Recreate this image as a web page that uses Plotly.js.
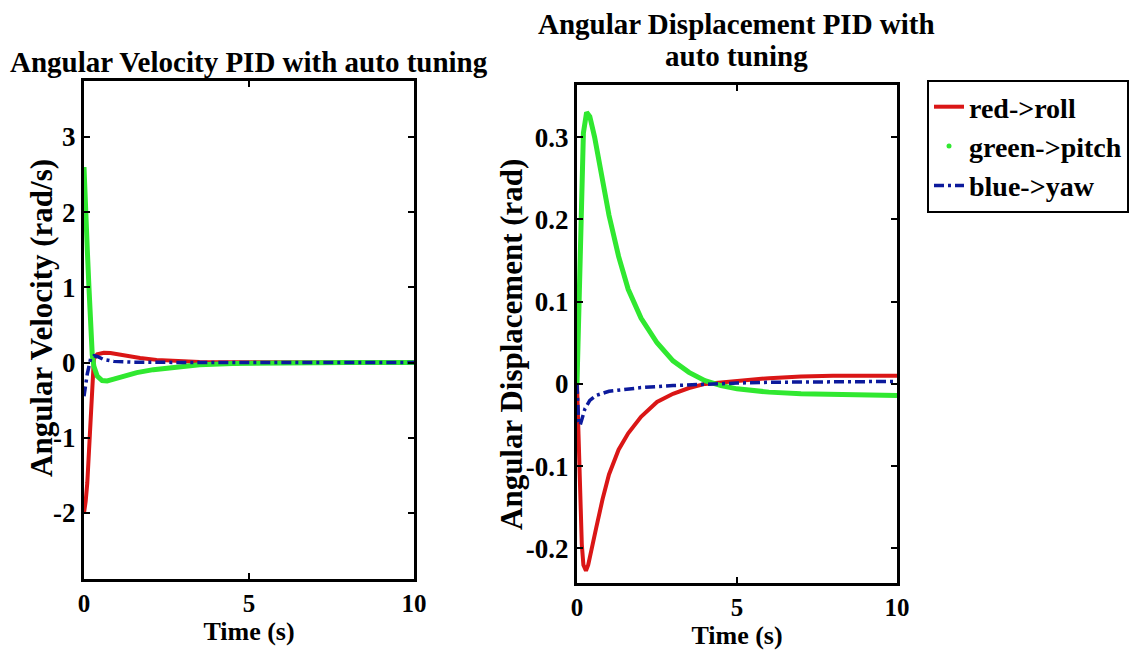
<!DOCTYPE html>
<html>
<head>
<meta charset="utf-8">
<script src="https://cdn.plot.ly/plotly-3.0.1.min.js"></script>
<style>html,body{margin:0;padding:0;background:#fff;}#chart{width:1137px;height:651px;}</style>
</head>
<body>
<div id="chart"></div>
<script>
// ---------- Data ----------
// Left panel: angular velocity (rad/s)
const tVelRoll  = [0, 0.05, 0.1, 0.15, 0.2, 0.25, 0.3, 0.4, 0.6, 0.8, 1.0, 1.3, 1.7, 2.2, 2.8, 3.5, 4.5, 6, 8, 10];
const velRoll   = [-2.0, -1.85, -1.6, -1.15, -0.6, -0.15, 0.05, 0.11, 0.13, 0.125, 0.11, 0.085, 0.06, 0.035, 0.018, 0.008, 0.003, 0.001, 0, 0];
const tVelPitch = [0, 0.05, 0.1, 0.15, 0.2, 0.25, 0.3, 0.4, 0.55, 0.7, 0.9, 1.2, 1.6, 2.1, 2.7, 3.5, 4.5, 6, 8, 10];
const velPitch  = [2.6, 2.2, 1.5, 1.0, 0.5, 0.1, -0.05, -0.18, -0.24, -0.245, -0.22, -0.18, -0.135, -0.095, -0.06, -0.03, -0.012, -0.003, 0, 0];
const tVelYaw   = [0, 0.05, 0.1, 0.2, 0.3, 0.4, 0.6, 0.9, 1.5, 3, 10];
const velYaw    = [-0.45, -0.3, -0.15, 0.05, 0.09, 0.08, 0.04, 0.015, 0.005, 0.001, 0];

// Right panel: angular displacement (rad)
const tDisRoll  = [0, 0.05, 0.1, 0.15, 0.2, 0.28, 0.35, 0.45, 0.6, 0.8, 1.0, 1.3, 1.6, 2.0, 2.5, 3.0, 3.5, 4.0, 5.0, 6.0, 7.0, 8.0, 10];
const disRoll   = [0, -0.06, -0.14, -0.195, -0.22, -0.227, -0.22, -0.2, -0.175, -0.14, -0.11, -0.08, -0.06, -0.04, -0.022, -0.012, -0.005, 0, 0.004, 0.007, 0.009, 0.01, 0.01];
const tDisPitch = [0, 0.05, 0.1, 0.15, 0.2, 0.3, 0.4, 0.55, 0.75, 1.0, 1.3, 1.6, 2.0, 2.5, 3.0, 3.5, 4.0, 4.5, 5.0, 6.0, 7.0, 8.0, 10];
const disPitch  = [0, 0.09, 0.19, 0.26, 0.305, 0.33, 0.325, 0.3, 0.26, 0.205, 0.155, 0.115, 0.08, 0.05, 0.028, 0.014, 0.004, -0.002, -0.006, -0.01, -0.012, -0.013, -0.014];
const tDisYaw   = [0, 0.05, 0.1, 0.15, 0.25, 0.4, 0.6, 1.0, 1.5, 2.0, 3.0, 4.0, 5.0, 6.0, 8.0, 10];
const disYaw    = [0, -0.045, -0.05, -0.043, -0.03, -0.02, -0.014, -0.009, -0.0065, -0.0045, -0.002, 0, 0.001, 0.002, 0.003, 0.003];

// Tick labels
const xTickVals = [0, 5, 10];
const xTickText = ["0", "5", "10"];
const yVelTickVals = [-2, -1, 0, 1, 2, 3];
const yVelTickText = ["-2", "-1", "0", "1", "2", "3"];
const yDisTickVals = [-0.2, -0.1, 0, 0.1, 0.2, 0.3];
const yDisTickText = ["-0.2", "-0.1", "0", "0.1", "0.2", "0.3"];

// Text
const seriesNames = ["red->roll", "green->pitch", "blue->yaw"];
const leftTitle = "Angular Velocity PID with auto tuning";
const rightTitleLines = ["Angular Displacement PID with", "auto tuning"];
const leftYLabel = "Angular Velocity (rad/s)";
const rightYLabel = "Angular Displacement (rad)";
const xLabel = "Time (s)";

// ---------- Styles ----------
const RED = "#da1616", GREEN = "#30e830", BLUE = "#0c1a9c";
const FONT = "Liberation Serif, Times New Roman, serif";
const lineRed = {color: RED, width: 4};
const lineGreen = {color: GREEN, width: 5};
const lineBlue = {color: BLUE, width: 3.5, dash: "10px,4px,3px,4px"};

const traces = [
  {x: tVelRoll, y: velRoll, mode: "lines", line: lineRed, xaxis: "x", yaxis: "y", name: seriesNames[0], legendgroup: "r", showlegend: true, legendrank: 1},
  {x: tDisRoll, y: disRoll, mode: "lines", line: lineRed, xaxis: "x2", yaxis: "y2", name: seriesNames[0], legendgroup: "r", showlegend: false},
  {x: tVelPitch, y: velPitch, mode: "lines", line: lineGreen, xaxis: "x", yaxis: "y", name: seriesNames[1], legendgroup: "g", showlegend: false},
  {x: tDisPitch, y: disPitch, mode: "lines", line: lineGreen, xaxis: "x2", yaxis: "y2", name: seriesNames[1], legendgroup: "g", showlegend: false},
  // legend entry for pitch drawn as a dot marker, as in the reference
  {x: [null], y: [null], mode: "markers", marker: {color: GREEN, size: 5}, xaxis: "x2", yaxis: "y2", name: seriesNames[1], legendgroup: "g", showlegend: true, legendrank: 2},
  {x: tVelYaw, y: velYaw, mode: "lines", line: lineBlue, xaxis: "x", yaxis: "y", name: seriesNames[2], legendgroup: "b", showlegend: true, legendrank: 3},
  {x: tDisYaw, y: disYaw, mode: "lines", line: lineBlue, xaxis: "x2", yaxis: "y2", name: seriesNames[2], legendgroup: "b", showlegend: false}
];

const W = 1137, H = 651;
const px = v => v / W, py = v => 1 - v / H;
const bold = size => ({family: FONT, size: size, color: "#000", weight: "bold"});

const axisCommon = {
  showline: true, mirror: "ticks", linecolor: "#000", linewidth: 3,
  ticks: "inside", ticklen: 6, tickwidth: 2, tickcolor: "#000",
  showgrid: false, zeroline: false,
  tickfont: bold(27),
  fixedrange: true
};

const layout = {
  width: W, height: H,
  margin: {l: 0, r: 0, t: 0, b: 0},
  paper_bgcolor: "#fff", plot_bgcolor: "#fff",
  showlegend: true,
  legend: {
    x: px(927), y: py(80), xanchor: "left", yanchor: "top",
    bordercolor: "#000", borderwidth: 2, bgcolor: "#fff",
    font: bold(28),
    itemwidth: 30, traceorder: "normal", tracegroupgap: 0
  },
  xaxis: Object.assign({}, axisCommon, {
    domain: [px(84), px(414)], range: [0, 10], anchor: "y",
    tickvals: xTickVals, ticktext: xTickText, tickfont: bold(25),
    title: {text: xLabel, font: bold(26), standoff: 4}
  }),
  yaxis: Object.assign({}, axisCommon, {
    domain: [py(579), py(81)], range: [-2.88, 3.745], anchor: "x",
    tickvals: yVelTickVals, ticktext: yVelTickText
  }),
  xaxis2: Object.assign({}, axisCommon, {
    domain: [px(577), px(897)], range: [0, 10], anchor: "y2",
    tickvals: xTickVals, ticktext: xTickText, tickfont: bold(25),
    title: {text: xLabel, font: bold(26), standoff: 4}
  }),
  yaxis2: Object.assign({}, axisCommon, {
    domain: [py(583), py(85)], range: [-0.242, 0.3633], anchor: "x2",
    tickvals: yDisTickVals, ticktext: yDisTickText
  }),
  annotations: [
    {text: leftTitle, xref: "paper", yref: "paper", x: px(249), y: py(62), xanchor: "center", yanchor: "middle", showarrow: false, font: bold(29)},
    {text: rightTitleLines[0], xref: "paper", yref: "paper", x: px(736), y: py(24), xanchor: "center", yanchor: "middle", showarrow: false, font: bold(29)},
    {text: rightTitleLines[1], xref: "paper", yref: "paper", x: px(736), y: py(56), xanchor: "center", yanchor: "middle", showarrow: false, font: bold(29)},
    {text: leftYLabel, xref: "paper", yref: "paper", x: px(41), y: py(318), xanchor: "center", yanchor: "middle", textangle: -90, showarrow: false, font: bold(31)},
    {text: rightYLabel, xref: "paper", yref: "paper", x: px(511), y: py(345), xanchor: "center", yanchor: "middle", textangle: -90, showarrow: false, font: bold(31)}
  ]
};

Plotly.newPlot("chart", traces, layout, {displayModeBar: false, staticPlot: true});
</script>
</body>
</html>
